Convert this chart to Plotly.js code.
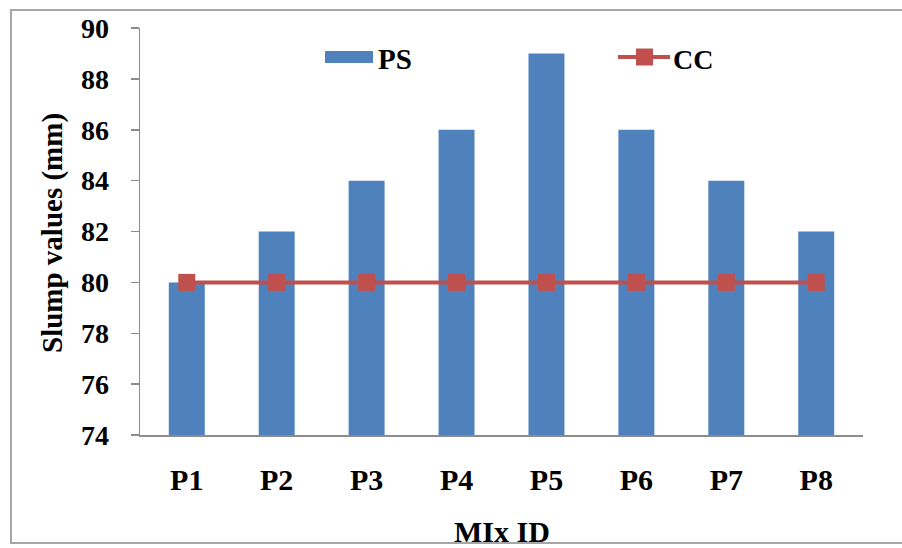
<!DOCTYPE html>
<html>
<head>
<meta charset="utf-8">
<script src="https://cdn.plot.ly/plotly-3.0.1.min.js"></script>
<style>
  html, body { margin: 0; padding: 0; background: #fff; }
  #chart { width: 902px; height: 548px; }
</style>
</head>
<body>
<div id="chart"></div>
<script>
// Slump values for each mix
const mixIds = ['P1', 'P2', 'P3', 'P4', 'P5', 'P6', 'P7', 'P8'];
const psValues = [80, 82, 84, 86, 89, 86, 84, 82];
const ccValues = [80, 80, 80, 80, 80, 80, 80, 80];
const psName = 'PS';
const ccName = 'CC';
const yTicks = [74, 76, 78, 80, 82, 84, 86, 88, 90];

const W = 902, H = 548;
const M = { l: 140, r: 39, t: 28, b: 113 };
const plotW = W - M.l - M.r, plotH = H - M.t - M.b;
// pixel -> paper helpers for legend and frame
const px = x => (x - M.l) / plotW;
const py = y => (H - M.b - y) / plotH;

const FONT = 'Liberation Serif';
const barColor = '#4F81BD';
const lineColor = '#C0504D';

const traces = [
  {
    type: 'bar', name: psName, x: mixIds, y: psValues,
    marker: { color: barColor }, showlegend: false, hoverinfo: 'x+y'
  },
  {
    type: 'scatter', mode: 'lines+markers', name: ccName, x: mixIds, y: ccValues,
    line: { color: lineColor, width: 4 },
    marker: { symbol: 'square', size: 17, color: lineColor },
    showlegend: false, cliponaxis: false
  }
];

const layout = {
  width: W, height: H,
  margin: M,
  paper_bgcolor: '#fff', plot_bgcolor: '#fff',
  bargap: 0.6,
  font: { family: FONT, color: '#000' },
  xaxis: {
    type: 'category',
    showline: true, linecolor: '#8C8C8C', linewidth: 1.5,
    ticks: '', showgrid: false, zeroline: false,
    tickfont: { family: FONT, size: 30, color: '#000', weight: 'bold' },
    ticklabelstandoff: 17
  },
  yaxis: {
    range: [74, 90], tickvals: yTicks, ticktext: yTicks.map(String),
    showline: true, linecolor: '#8C8C8C', linewidth: 1.5,
    ticks: 'outside', ticklen: 8, tickcolor: '#8C8C8C', tickwidth: 1.5,
    showgrid: false, zeroline: false,
    tickfont: { family: FONT, size: 28, color: '#000', weight: 'bold' },
    ticklabelstandoff: 16
  },
  shapes: [
    // outer frame
    { type: 'rect', xref: 'paper', yref: 'paper',
      x0: px(11), x1: px(910), y0: py(543), y1: py(10),
      line: { color: '#A6A6A6', width: 2 }, fillcolor: 'rgba(0,0,0,0)', layer: 'below' },
    // legend: PS swatch
    { type: 'rect', xref: 'paper', yref: 'paper',
      x0: px(325), x1: px(373), y0: py(63), y1: py(51),
      line: { width: 0 }, fillcolor: barColor },
    // legend: CC line and marker
    { type: 'line', xref: 'paper', yref: 'paper',
      x0: px(618), x1: px(670), y0: py(57), y1: py(57),
      line: { color: lineColor, width: 4 } },
    { type: 'rect', xref: 'paper', yref: 'paper',
      x0: px(636), x1: px(653), y0: py(65.5), y1: py(48.5),
      line: { width: 0 }, fillcolor: lineColor }
  ],
  annotations: [
    { xref: 'paper', yref: 'paper', x: px(376), y: py(59), xanchor: 'left', yanchor: 'middle',
      text: '<b>' + psName + '</b>', showarrow: false, font: { family: FONT, size: 29, color: '#000' } },
    { xref: 'paper', yref: 'paper', x: px(671), y: py(59), xanchor: 'left', yanchor: 'middle',
      text: '<b>' + ccName + '</b>', showarrow: false, font: { family: FONT, size: 28, color: '#000' } },
    { xref: 'paper', yref: 'paper', x: px(52), y: py(233), xanchor: 'center', yanchor: 'middle',
      textangle: -90, text: '<b>Slump values (mm)</b>', showarrow: false,
      font: { family: FONT, size: 29, color: '#000' } },
    { xref: 'paper', yref: 'paper', x: 0.5, y: py(531), xanchor: 'center', yanchor: 'middle',
      text: '<b>MIx ID</b>', showarrow: false,
      font: { family: FONT, size: 30, color: '#000' } }
  ]
};

Plotly.newPlot('chart', traces, layout, { displayModeBar: false, staticPlot: true });
</script>
</body>
</html>
